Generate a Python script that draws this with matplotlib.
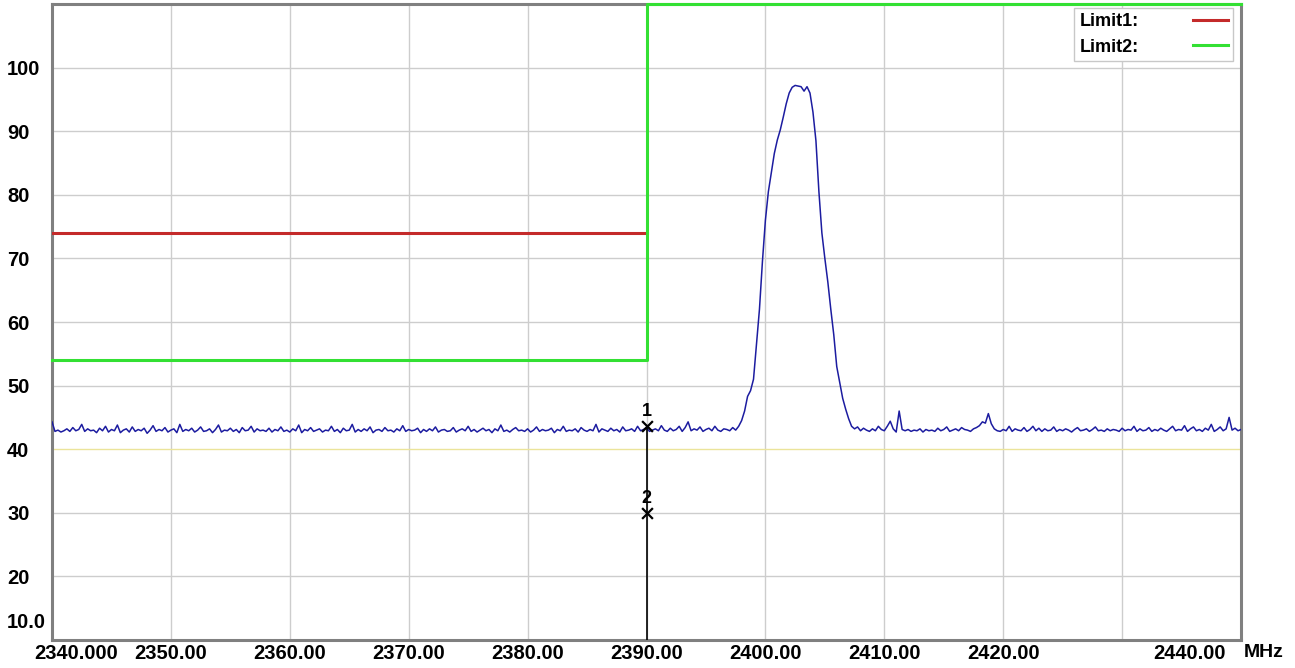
"""Spectrum analyser style plot: band-edge trace with two limit lines."""

import matplotlib

matplotlib.use("Agg")

import matplotlib.pyplot as plt
import numpy as np
from matplotlib.lines import Line2D
from matplotlib.transforms import ScaledTranslation

plt.rcParams["font.family"] = ["Liberation Sans", "DejaVu Sans"]

# frequency axis (MHz) - trace sampled every 0.25 MHz
FREQ_START = 2340.0
FREQ_STEP = 0.25

# noise floor 2340.00 .. 2397.50
floor_left = [
    44.3, 42.8, 43.0, 42.7, 42.9, 43.2, 42.8, 43.4, 42.9, 43.1, 43.9, 42.8, 43.2, 42.9, 43.0, 42.6, 43.3, 42.9, 43.6, 42.7,
    43.1, 42.9, 43.8, 42.6, 43.0, 43.2, 42.7, 43.5, 42.8, 43.1, 42.9, 43.3, 42.5, 43.0, 43.7, 42.8, 43.1, 42.9, 43.4, 42.7,
    43.0, 43.2, 42.6, 43.9, 42.8, 43.1, 42.9, 43.3, 42.7, 43.0, 43.5, 42.8, 42.9, 43.2, 42.6, 43.1, 43.8, 42.7, 43.0, 42.9,
    43.3, 42.8, 43.1, 42.6, 43.4, 42.9, 43.0, 43.6, 42.7, 43.2, 42.9, 43.0, 42.8, 43.3, 42.7, 43.1, 42.9, 43.5, 42.8, 43.0,
    42.7, 43.2, 42.9, 43.8, 42.6, 43.1, 42.9, 43.4, 42.8, 43.0, 43.2, 42.7, 43.0, 42.9, 43.6, 42.8, 43.1, 42.6, 43.3, 42.9,
    43.0, 43.9, 42.7, 43.1, 42.8, 43.2, 42.9, 43.5, 42.6, 43.0, 43.1, 42.8, 43.4, 42.9, 43.0, 42.7, 43.2, 42.9, 43.7, 42.8,
    43.1, 42.9, 43.0, 43.3, 42.6, 43.1, 42.8, 43.2, 42.9, 43.5, 42.7, 43.0, 43.1, 42.8, 42.9, 43.4, 42.7, 43.0, 43.2, 42.9,
    43.6, 42.8, 43.1, 42.7, 43.0, 43.3, 42.9, 43.1, 42.6, 43.2, 42.9, 43.8, 42.8, 43.0, 42.7, 43.1, 43.4, 42.9, 43.0, 42.8,
    43.2, 42.7, 43.0, 43.5, 42.8, 43.1, 42.9, 43.0, 43.3, 42.6, 43.1, 42.9, 43.6, 42.8, 43.0, 42.9, 43.2, 42.7, 43.4, 43.0,
    42.8, 43.1, 42.9, 43.9, 42.7, 43.2, 43.0, 42.8, 43.3, 42.9, 43.1, 42.7, 43.5, 42.9, 43.0, 43.2, 42.8, 43.6, 42.9, 43.1,
    43.4, 42.8, 43.0, 43.2, 42.9, 43.7, 43.0, 42.8, 43.3, 42.9, 43.1, 43.6, 42.8, 43.4, 44.3, 42.9, 43.2, 43.0, 43.5, 42.8,
    43.1, 43.3, 42.9, 43.6, 43.0, 42.8, 43.2, 43.1, 42.9, 43.4, 43.0,
]

# carrier 2397.75 .. 2407.50
carrier = [
    43.6, 44.5, 46.0, 48.3, 49.2, 51.0, 56.5, 62.0, 69.5, 76.0,
    80.5, 83.5, 86.5, 88.6, 90.2, 92.2, 94.3, 96.0, 96.9, 97.2,
    97.1, 97.0, 96.3, 97.0, 96.0, 93.0, 88.5, 80.5, 74.0, 70.0,
    66.3, 62.0, 58.0, 53.0, 50.5, 48.0, 46.3, 44.8, 43.6, 43.2,
]

# noise floor 2407.75 .. 2440.00
floor_right = [
    43.5, 42.9, 43.3, 43.0, 42.8, 43.2, 42.9, 43.6, 43.1, 42.9, 43.6, 44.4, 43.2, 42.7, 46.0, 43.1, 42.9, 43.1, 42.8, 43.0,
    42.9, 43.2, 42.7, 43.1, 42.9, 43.0, 42.8, 43.3, 42.9, 43.1, 43.5, 42.8, 43.0, 43.2, 42.9, 43.4, 43.1, 43.0, 42.8, 43.2,
    43.4, 43.7, 44.3, 44.1, 45.6, 44.0, 43.2, 42.9, 42.8, 43.1, 42.9, 43.6, 42.8, 43.2, 43.0, 42.9, 43.4, 42.8, 43.1, 43.6,
    42.9, 43.3, 42.8, 43.2, 42.9, 43.0, 43.5, 42.8, 43.1, 42.9, 43.2, 43.0, 42.7, 43.1, 43.4, 42.9, 43.0, 43.2, 42.8, 43.1,
    43.5, 42.9, 43.0, 42.8, 43.2, 42.9, 43.1, 43.0, 42.8, 43.3, 42.9, 43.1, 43.0, 43.6, 42.8, 43.2, 42.9, 43.0, 43.4, 42.8,
    43.1, 42.9, 43.3, 43.0, 42.8, 43.2, 43.6, 42.9, 43.1, 43.0, 43.7, 42.8, 43.2, 43.5, 42.9, 43.1, 42.8, 43.3, 43.0, 43.9,
    42.8, 43.1, 43.5, 42.9, 43.2, 45.0, 43.0, 43.3, 42.9, 43.1,
]

limit1_freq = [2340.0, 2390.0]
limit1_level = [74.0, 74.0]
limit2_freq = [2340.0, 2390.0, 2390.0, 2440.0]
limit2_level = [54.0, 54.0, 110.0, 110.0]

marker_freq = [2390.0, 2390.0]
marker_level = [43.7, 30.0]
marker_names = ["1", "2"]

x_ticks = [2340, 2350, 2360, 2370, 2380, 2390, 2400, 2410, 2420, 2440]
x_tick_labels = ["2340.000", "2350.00", "2360.00", "2370.00", "2380.00", "2390.00",
                 "2400.00", "2410.00", "2420.00", "2440.00"]
x_grid = [2350, 2360, 2370, 2380, 2390, 2400, 2410, 2420, 2430]
y_ticks = [10, 20, 30, 40, 50, 60, 70, 80, 90, 100]
y_tick_labels = ["10.0", "20", "30", "40", "50", "60", "70", "80", "90", "100"]

TRACE_BLUE = "#1c1ca0"
LIMIT_RED = "#c42a2a"
LIMIT_GREEN = "#33e033"
GRID_GREY = "#cdcdcd"
FRAME_GREY = "#808080"
LABEL_SIZE = 14.5

trace = np.array(floor_left + carrier + floor_right)
freq = FREQ_START + FREQ_STEP * np.arange(len(trace))

fig = plt.figure(figsize=(12.95, 6.68), dpi=100)
ax = fig.add_axes([52 / 1295, 28 / 668, 1189 / 1295, 636 / 668])
ax.set_xlim(2340, 2440)
ax.set_ylim(10, 110)

for gx in x_grid:
    ax.axvline(gx, color=GRID_GREY, linewidth=1.0, zorder=1)
for gy in y_ticks[1:]:
    if gy == 40:
        continue
    ax.axhline(gy, color=GRID_GREY, linewidth=1.0, zorder=1)
ax.axhline(40, color="#ebe49a", linewidth=1.0, zorder=1)

ax.plot(freq, trace, color=TRACE_BLUE, linewidth=1.1, zorder=3)
ax.plot(limit1_freq, limit1_level, color=LIMIT_RED, linewidth=2.2, zorder=4)
ax.plot(limit2_freq, limit2_level, color=LIMIT_GREEN, linewidth=2.2, zorder=6, clip_on=False)

# marker drop line and the two markers
ax.plot([marker_freq[0], marker_freq[0]], [10, marker_level[0]], color="black", linewidth=1.2, zorder=5)
ax.scatter(marker_freq, marker_level, marker="x", s=60, color="black", linewidths=1.6, zorder=6)
for mx, my, name in zip(marker_freq, marker_level, marker_names):
    ax.annotate(name, (mx, my), xytext=(0, 4), textcoords="offset points",
                ha="center", va="bottom", fontsize=13, fontweight="bold")

for side in ("left", "right", "top", "bottom"):
    ax.spines[side].set_color(FRAME_GREY)
    ax.spines[side].set_linewidth(2.2)

ax.set_xticks(x_ticks)
ax.set_xticklabels(x_tick_labels, fontsize=LABEL_SIZE, fontweight="bold")
ax.set_yticks(y_ticks)
ax.set_yticklabels(y_tick_labels, fontsize=LABEL_SIZE, fontweight="bold", ha="left")
ax.tick_params(axis="both", length=0)
ax.tick_params(axis="x", pad=3)
ax.tick_params(axis="y", pad=32.4)

xlabels = ax.get_xticklabels()
xlabels[0].set_transform(xlabels[0].get_transform() + ScaledTranslation(0.24, 0, fig.dpi_scale_trans))
xlabels[-1].set_transform(xlabels[-1].get_transform() + ScaledTranslation(-0.52, 0, fig.dpi_scale_trans))
ylabels = ax.get_yticklabels()
ylabels[0].set_transform(ylabels[0].get_transform() + ScaledTranslation(0, 0.19, fig.dpi_scale_trans))

ax.annotate("MHz", (1.0, 0.0), xycoords="axes fraction", xytext=(2, -3), textcoords="offset points",
            ha="left", va="top", fontsize=LABEL_SIZE - 0.5, fontweight="bold")

handles = [Line2D([], [], color=LIMIT_RED, linewidth=2.2),
           Line2D([], [], color=LIMIT_GREEN, linewidth=2.2)]
legend = ax.legend(handles, ["Limit1:", "Limit2:"], loc="upper right", bbox_to_anchor=(0.9933, 0.9937),
                   markerfirst=False, frameon=True, fancybox=False, edgecolor="#c8c8c8", framealpha=1.0,
                   prop={"size": 13, "weight": "bold"}, handlelength=1.9, handletextpad=3.0,
                   borderpad=0.3, labelspacing=0.45, borderaxespad=0.0)
legend.get_frame().set_linewidth(1.0)
legend.set_zorder(7)

fig.savefig("out.png", dpi=100)
